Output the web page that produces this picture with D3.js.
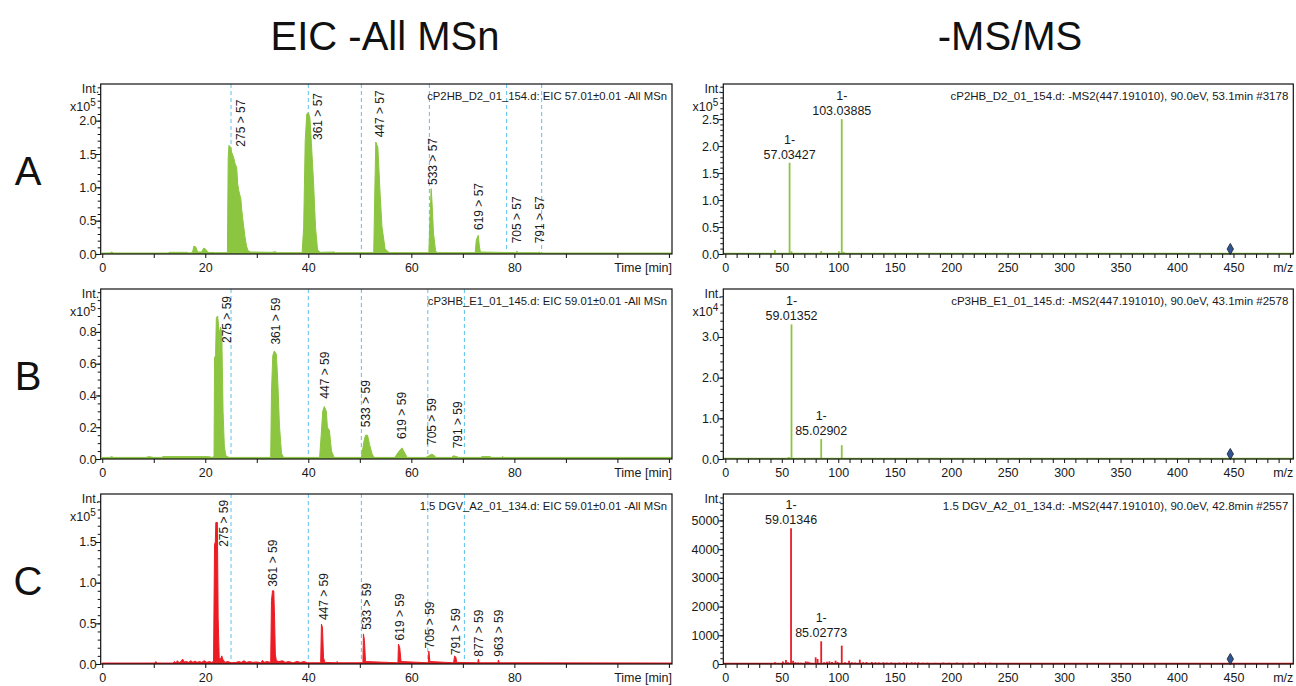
<!DOCTYPE html>
<html><head><meta charset="utf-8">
<script src="https://cdn.jsdelivr.net/npm/d3@7"></script>
<style>
html,body{margin:0;padding:0;background:#fff;}
svg{display:block;font-family:"Liberation Sans",Arial,sans-serif;}
</style></head><body>
<svg id="chart" width="1296" height="686"></svg>
<script>
// ---------------- DATA ----------------
const panelLetters = ["A", "B", "C"];
const columnTitles = ["EIC -All MSn", "-MS/MS"];

const eicTitles = [
  "cP2HB_D2_01_154.d: EIC 57.01\u00b10.01 -All MSn",
  "cP3HB_E1_01_145.d: EIC 59.01\u00b10.01 -All MSn",
  "1.5 DGV_A2_01_134.d: EIC 59.01\u00b10.01 -All MSn"
];
const msTitles = [
  "cP2HB_D2_01_154.d: -MS2(447.191010), 90.0eV, 53.1min #3178",
  "cP3HB_E1_01_145.d: -MS2(447.191010), 90.0eV, 43.1min #2578",
  "1.5 DGV_A2_01_134.d: -MS2(447.191010), 90.0eV, 42.8min #2557"
];

// chromatograms: [time (min), intensity]
const eicA = [[0,0.015],[1.5,0.015],[1.8,0.03],[2.2,0.015],[12.8,0.015],[13,0.025],[16.5,0.025],[16.8,0.015],[17.5,0.02],[17.8,0.12],[18.2,0.1],[18.5,0.03],[19.3,0.03],[19.7,0.09],[20.1,0.07],[20.5,0.025],[22,0.02],[24.3,0.02],[24.45,1.45],[24.6,1.63],[24.9,1.6],[25.1,1.53],[25.5,1.45],[25.8,1.35],[26.1,1.3],[26.3,1.05],[26.5,0.95],[26.9,0.83],[27.1,0.65],[27.3,0.51],[27.7,0.26],[28.0,0.12],[28.3,0.05],[28.8,0.03],[33,0.025],[33.5,0.035],[34,0.02],[38.8,0.02],[39.1,0.4],[39.4,1.7],[39.7,2.1],[40.0,2.12],[40.3,2.05],[40.6,1.66],[41.0,1.1],[41.4,0.4],[41.8,0.06],[42.3,0.025],[45,0.03],[45.3,0.02],[52.7,0.02],[52.9,0.9],[53.1,1.68],[53.5,1.6],[53.9,0.96],[54.3,0.41],[54.9,0.08],[55.5,0.03],[56,0.02],[63.4,0.02],[63.6,0.5],[63.85,0.98],[64.0,0.8],[64.3,0.31],[64.7,0.05],[65,0.02],[72.4,0.02],[72.6,0.2],[72.85,0.26],[73.0,0.28],[73.2,0.12],[73.4,0.03],[80.2,0.02],[80.5,0.04],[80.8,0.02],[84.5,0.02],[84.8,0.03],[85.1,0.015],[110.6,0.015]];
const eicB = [[0,0.01],[1.5,0.01],[1.8,0.015],[2.2,0.01],[8.5,0.01],[9,0.015],[10,0.01],[11.5,0.01],[11.8,0.015],[20.5,0.015],[21.5,0.01],[21.7,0.02],[21.8,0.64],[22.0,0.65],[22.15,0.89],[22.4,0.9],[22.55,0.85],[22.65,0.6],[22.75,0.8],[22.95,0.83],[23.2,0.8],[23.3,0.6],[23.45,0.3],[23.7,0.08],[24.0,0.02],[24.6,0.01],[32.7,0.01],[32.85,0.42],[33.1,0.65],[33.4,0.68],[33.8,0.66],[34.1,0.47],[34.4,0.21],[34.8,0.035],[35.2,0.01],[42.2,0.01],[42.5,0.15],[42.8,0.3],[43.1,0.33],[43.5,0.3],[43.7,0.2],[44.1,0.18],[44.5,0.05],[45,0.01],[50.3,0.01],[50.5,0.05],[50.8,0.11],[51.1,0.15],[51.5,0.15],[51.9,0.09],[52.4,0.03],[52.8,0.01],[56.8,0.01],[57.4,0.04],[57.9,0.06],[58.2,0.07],[58.6,0.045],[59.2,0.01],[62.8,0.01],[63.4,0.02],[63.9,0.03],[64.3,0.025],[64.8,0.01],[67.8,0.01],[68.2,0.02],[68.8,0.015],[69.2,0.01],[73.5,0.01],[73.7,0.015],[75.3,0.015],[75.5,0.01],[77.5,0.01],[77.7,0.015],[78,0.01],[110.6,0.01]];
const eicC = [[0,0.012],[10.2,0.012],[10.4,0.03],[10.6,0.012],[13.8,0.012],[14.0,0.03],[14.3,0.015],[14.6,0.04],[14.9,0.015],[15.3,0.03],[15.6,0.06],[15.9,0.025],[16.3,0.03],[16.8,0.02],[17.2,0.04],[17.6,0.02],[18.0,0.035],[18.4,0.02],[18.9,0.03],[19.3,0.02],[19.8,0.04],[20.3,0.02],[20.8,0.03],[21.2,0.02],[21.6,0.03],[21.8,1.47],[21.95,1.5],[22.05,1.74],[22.35,1.74],[22.5,0.57],[22.7,0.08],[22.9,0.05],[23.2,0.1],[23.4,0.06],[23.8,0.02],[24.4,0.03],[25.0,0.015],[26,0.02],[26.5,0.03],[27.0,0.02],[27.5,0.04],[28.0,0.02],[28.6,0.03],[29.2,0.02],[30.0,0.025],[30.8,0.015],[31.1,0.045],[31.4,0.02],[32.0,0.03],[32.7,0.02],[32.85,0.78],[33.05,0.9],[33.3,0.9],[33.45,0.57],[33.6,0.12],[33.8,0.04],[34.3,0.03],[35,0.04],[35.5,0.02],[36.2,0.03],[37,0.015],[37.8,0.03],[38.5,0.02],[39.2,0.03],[39.8,0.015],[42.4,0.015],[42.55,0.49],[42.75,0.45],[42.95,0.08],[43.2,0.02],[45.4,0.015],[45.6,0.03],[45.8,0.015],[50.6,0.015],[50.7,0.37],[50.9,0.29],[51.1,0.03],[57.4,0.015],[57.5,0.245],[57.75,0.2],[58.0,0.03],[63.3,0.015],[63.4,0.16],[63.6,0.03],[68.2,0.015],[68.4,0.1],[68.65,0.08],[68.8,0.02],[72.9,0.015],[73.0,0.06],[73.2,0.015],[76.8,0.015],[76.9,0.05],[77.1,0.015],[110.6,0.012]];

// dashed retention markers (min)
const dashA = [25, 40, 50.3, 63.5, 78.5, 85.3];
const dashB = [25, 40, 50.3, 63.2, 70.3];
const dashC = [25, 40, 50.3, 63.2, 70.3];

// peak labels: [time, intensity, text]
const peakLabelsA = [[26.9,1.61,"275 > 57"],[41.9,1.71,"361 > 57"],[53.9,1.75,"447 > 57"],[64.2,1.035,"533 > 57"],[73.05,0.36,"619 > 57"],[80.5,0.16,"705 > 57"],[84.9,0.16,"791 > 57"]];
const peakLabelsB = [[24.2,0.73,"275 > 59"],[33.8,0.72,"361 > 59"],[43.3,0.38,"447 > 59"],[51.2,0.20,"533 > 59"],[58.2,0.126,"619 > 59"],[64.1,0.088,"705 > 59"],[69.0,0.067,"791 > 59"]];
const peakLabelsC = [[23.65,1.44,"275 > 59"],[33.2,0.95,"361 > 59"],[42.95,0.54,"447 > 59"],[51.4,0.42,"533 > 59"],[57.8,0.29,"619 > 59"],[63.6,0.19,"705 > 59"],[68.6,0.11,"791 > 59"],[73.2,0.09,"877 > 59"],[77.06,0.09,"963 > 59"]];

// MS/MS spectra: [m/z, intensity]
const msA = [[43.9,0.075],[56.9,1.69],[58.6,0.05],[84.9,0.055],[100.6,0.05],[103.1,2.5],[104.8,0.04]];
const msB = [[56.2,0.05],[58.6,3.31],[84.9,0.49],[103.1,0.34]];
const msC = [[43.9,58],[51,90],[53.7,140],[55.5,60],[58.2,4727],[60,116],[62,60],[64.5,50],[67,40],[71.2,93],[73,80],[74.5,60],[77,40],[80,232],[81.7,174],[84.9,790],[87.5,60],[90,80],[92.2,93],[94.5,70],[97.6,116],[99.5,70],[103.1,640],[106,60],[109.6,116],[112,60],[115,50],[119.1,150],[122,60],[125,70],[129.7,70],[133,60],[136,55],[140,60],[143,50],[147,55],[150,40],[154,50],[158,55],[161,50],[165,60],[168,50],[171,55],[175,40],[179,45],[186,40],[193,50],[198,40],[205,50],[210,40],[216,45],[224,58],[230,40],[234.5,45]];
const msLabelsA = [[56.9,1.69,"57.03427"],[103.1,2.5,"103.03885"]];
const msLabelsB = [[58.6,3.31,"59.01352"],[84.9,0.49,"85.02902"]];
const msLabelsC = [[58.2,4727,"59.01346"],[84.9,790,"85.02773"]];
const precursorMz = [447.19];

// axis ticks
const timeTicks = [0,10,20,30,40,50,60,70,80,90,100,110];
const timeLabels = [0,20,40,60,80];
const mzTicks = d3.range(0, 501, 10);
const mzLabels = [0,50,100,150,200,250,300,350,400,450];
const eicYMajor = [[0,0.5,1.0,1.5,2.0],[0,0.2,0.4,0.6,0.8],[0,0.5,1.0,1.5]];
const eicYMinor = [d3.range(0,2.55,0.1),d3.range(0,1.07,0.05),d3.range(0,2.09,0.1)];
const eicYExp = ["5","5","5"];
const msYMajor = [[0,0.5,1.0,1.5,2.0,2.5],[0,1.0,2.0,3.0],[0,1000,2000,3000,4000,5000]];
const msYMinor = [d3.range(0,3.15,0.1),d3.range(0,4.18,0.2),d3.range(0,5920,200)];
const msYExp = ["5","4",null];
const eicYMax = [2.55, 1.07, 2.09];
const msYMax = [3.15, 4.18, 5920];

// ---------------- LAYOUT / STYLE ----------------
const GREEN = "#8cc540", RED = "#ec1c24", DASH = "#5cc1ee", INK = "#1a1a1a";
const colors = [GREEN, GREEN, RED];
const rows = [{top:84,bottom:254},{top:289,bottom:459},{top:494,bottom:664}];
const L = {x0:100.7, x1:672, dom:[-0.3,110.6]};
const R = {x0:723.3, x1:1293.3, dom:[-1.8,503]};

const svg = d3.select("#chart");

svg.append("text").attr("x",385).attr("y",50).attr("text-anchor","middle")
  .attr("font-size",40).attr("fill","#111").text(columnTitles[0]);
svg.append("text").attr("x",1010).attr("y",50).attr("text-anchor","middle")
  .attr("font-size",40).attr("fill","#111").text(columnTitles[1]);
rows.forEach((r,i)=>{
  svg.append("text").attr("x",28).attr("y",(r.top+r.bottom)/2+16).attr("text-anchor","middle")
    .attr("font-size",40).attr("fill","#111").text(panelLetters[i]);
});

function drawAxes(g, x, y, box, r, xt, xl, ymaj, ymin, yfmt, exp, xtitle){
  const xa = g.append("g").attr("transform",`translate(0,${r.bottom})`)
    .call(d3.axisBottom(x).tickValues(xt).tickSize(4).tickSizeOuter(0)
      .tickFormat(d=> xl.includes(d) ? d : ""));
  xa.select(".domain").remove();
  xa.selectAll("text").attr("font-size",12.5).attr("font-family","Liberation Sans, Arial, sans-serif").attr("fill",INK).attr("dy","0.85em");
  xa.selectAll("line").attr("stroke","#111");
  const ya = g.append("g").attr("transform",`translate(${box.x0},0)`)
    .call(d3.axisLeft(y).tickValues(ymaj).tickSize(5).tickSizeOuter(0).tickFormat(yfmt));
  ya.select(".domain").remove();
  ya.selectAll("text").attr("font-size",12.5).attr("font-family","Liberation Sans, Arial, sans-serif").attr("fill",INK).attr("x",-4);
  ya.selectAll("line").attr("stroke","#111");
  const ym = g.append("g").attr("transform",`translate(${box.x0},0)`)
    .call(d3.axisLeft(y).tickValues(ymin).tickSize(3).tickSizeOuter(0).tickFormat(""));
  ym.select(".domain").remove();
  ym.selectAll("line").attr("stroke","#111");
  g.append("rect").attr("x",box.x0).attr("y",r.top).attr("width",box.x1-box.x0).attr("height",r.bottom-r.top)
    .attr("fill","none").attr("stroke","#111").attr("stroke-width",1.2);
  g.append("text").attr("x",box.x1).attr("y",r.bottom+18).attr("text-anchor","end")
    .attr("font-size",12.5).attr("fill",INK).text(xtitle);
  g.append("text").attr("x",box.x0-1.5).attr("y",r.top+8.5).attr("text-anchor","end")
    .attr("font-size",12.5).attr("fill",INK).text("Int.");
  if(exp){
    const t = g.append("text").attr("x",box.x0-5).attr("y",r.top+27).attr("text-anchor","end")
      .attr("font-size",12.5).attr("fill",INK);
    t.append("tspan").text("x10");
    t.append("tspan").attr("dy",-5.5).attr("font-size",10).text(exp);
  }
}

const eics = [eicA, eicB, eicC];
const dashes = [dashA, dashB, dashC];
const peakLabels = [peakLabelsA, peakLabelsB, peakLabelsC];
const mss = [msA, msB, msC];
const msLabels = [msLabelsA, msLabelsB, msLabelsC];

rows.forEach((r,i)=>{
  const col = colors[i];
  // ---------- EIC panel ----------
  const gl = svg.append("g");
  const x = d3.scaleLinear().domain(L.dom).range([L.x0, L.x1]);
  const y = d3.scaleLinear().domain([0, eicYMax[i]]).range([r.bottom, r.top]);
  const clipId = "clipL"+i;
  gl.append("clipPath").attr("id",clipId).append("rect")
    .attr("x",L.x0).attr("y",r.top).attr("width",L.x1-L.x0).attr("height",r.bottom-r.top);
  const plot = gl.append("g").attr("clip-path",`url(#${clipId})`);
  plot.selectAll("line.dash").data(dashes[i]).join("line").attr("class","dash")
    .attr("x1",d=>x(d)).attr("x2",d=>x(d)).attr("y1",r.top).attr("y2",r.bottom)
    .attr("stroke",DASH).attr("stroke-width",1).attr("stroke-dasharray","4,3");
  const area = d3.area().x(d=>x(d[0])).y0(y(0)).y1(d=>y(d[1]));
  plot.append("path").datum(eics[i]).attr("d",area)
    .attr("fill",col).attr("stroke",col).attr("stroke-width",1).attr("stroke-linejoin","round");
  gl.selectAll("text.pl").data(peakLabels[i]).join("text").attr("class","pl")
    .attr("transform",d=>`translate(${x(d[0])},${y(d[1])}) rotate(-90)`)
    .attr("text-anchor","start").attr("dominant-baseline","central")
    .attr("font-size",12).attr("fill",INK).text(d=>d[2]);
  gl.append("text").attr("x",L.x1-5).attr("y",r.top+16).attr("text-anchor","end")
    .attr("font-size",11.3).attr("fill",INK).text(eicTitles[i]);
  drawAxes(gl, x, y, L, r, timeTicks, timeLabels, eicYMajor[i], eicYMinor[i],
    d=> d3.format(".1f")(d), eicYExp[i], "Time [min]");

  // ---------- MS panel ----------
  const gr = svg.append("g");
  const xm = d3.scaleLinear().domain(R.dom).range([R.x0, R.x1]);
  const ym = d3.scaleLinear().domain([0, msYMax[i]]).range([r.bottom, r.top]);
  gr.append("line").attr("x1",xm(R.dom[0])).attr("x2",xm(R.dom[1])).attr("y1",ym(0)-0.5).attr("y2",ym(0)-0.5)
    .attr("stroke",col).attr("stroke-width",1.3);
  gr.selectAll("line.stick").data(mss[i]).join("line").attr("class","stick")
    .attr("x1",d=>xm(d[0])).attr("x2",d=>xm(d[0])).attr("y1",ym(0)).attr("y2",d=>ym(d[1]))
    .attr("stroke",col).attr("stroke-width",1.8);
  const lab = gr.selectAll("g.msl").data(msLabels[i]).join("g").attr("class","msl")
    .attr("transform",d=>`translate(${xm(d[0])},${ym(d[1])-4})`);
  lab.append("text").attr("text-anchor","middle").attr("y",-15).attr("font-size",12.5).attr("fill",INK).text("1-");
  lab.append("text").attr("text-anchor","middle").attr("y",0).attr("font-size",12.5).attr("fill",INK).text(d=>d[2]);
  gr.selectAll("path.prec").data(precursorMz).join("path").attr("class","prec")
    .attr("d", d3.symbol(d3.symbolDiamond, 36))
    .attr("transform",d=>`translate(${xm(d)},${ym(0)-5})`)
    .attr("fill","#2f5597").attr("stroke","#222").attr("stroke-width",0.8);
  gr.append("text").attr("x",R.x1-5).attr("y",r.top+16).attr("text-anchor","end")
    .attr("font-size",11.5).attr("fill",INK).text(msTitles[i]);
  drawAxes(gr, xm, ym, R, r, mzTicks, mzLabels, msYMajor[i], msYMinor[i],
    d=> i===2 ? d3.format("d")(d) : d3.format(".1f")(d), msYExp[i], "m/z");
});
</script>
</body></html>
